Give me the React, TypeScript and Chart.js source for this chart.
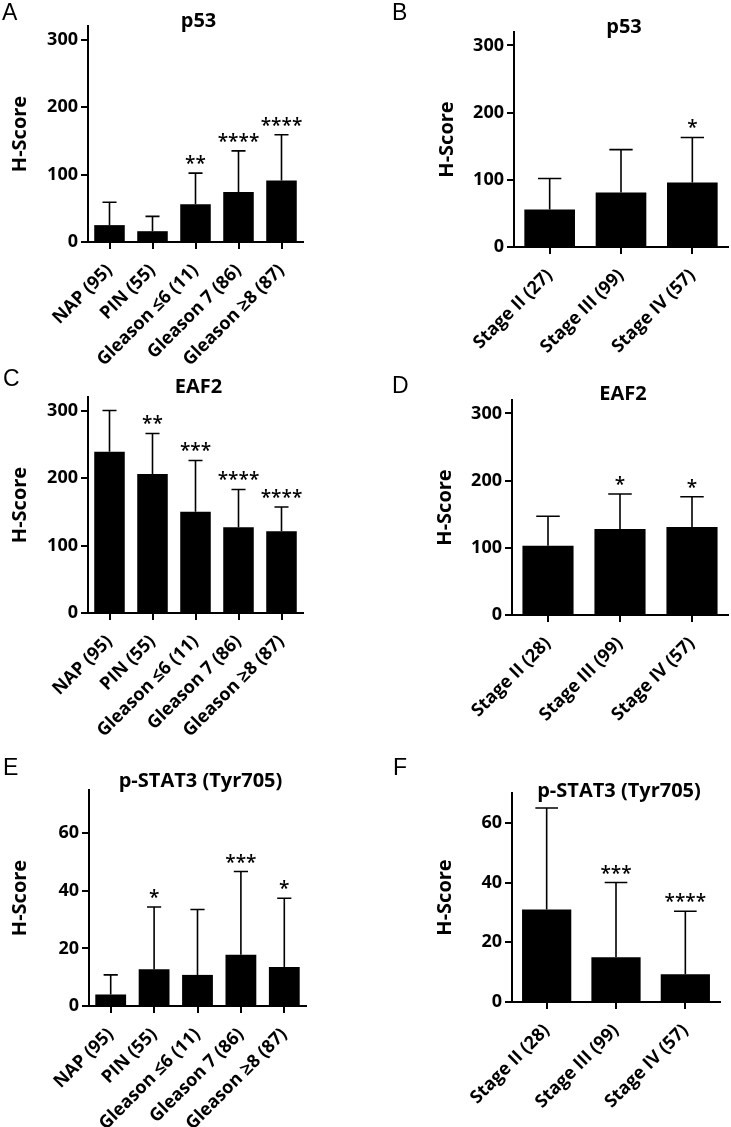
import React, { useEffect, useRef } from 'react';
import { Chart, registerables } from 'chart.js';

Chart.register(...registerables);

// ---------- data ----------
const gleasonCategories = ['NAP (95)', 'PIN (55)', 'Gleason ≤6 (11)', 'Gleason 7 (86)', 'Gleason ≥8 (87)'];
const stageCategoriesP53 = ['Stage II (27)', 'Stage III (99)', 'Stage IV (57)'];
const stageCategories = ['Stage II (28)', 'Stage III (99)', 'Stage IV (57)'];

const p53GleasonMean = [25, 16, 56, 74, 91];
const p53GleasonSD = [34, 22, 46, 61, 68];
const p53GleasonStars = ['', '', '**', '****', '****'];

const p53StageMean = [56, 81, 96];
const p53StageSD = [46, 64, 67];
const p53StageStars = ['', '', '*'];

const eaf2GleasonMean = [239, 206, 150, 127, 121];
const eaf2GleasonSD = [61, 60, 76, 56, 36];
const eaf2GleasonStars = ['', '**', '***', '****', '****'];

const eaf2StageMean = [103, 128, 131];
const eaf2StageSD = [44, 52, 45];
const eaf2StageStars = ['', '*', '*'];

const pstat3GleasonMean = [4, 12.8, 10.8, 17.8, 13.5];
const pstat3GleasonSD = [6.8, 21.6, 22.7, 28.9, 23.9];
const pstat3GleasonStars = ['', '*', '', '***', '*'];

const pstat3StageMean = [31, 15, 9.3];
const pstat3StageSD = [34, 25, 21.1];
const pstat3StageStars = ['', '***', '****'];

const hScoreMax = 320;
const hScoreStep = 100;
const pstat3GleasonMax = 75;
const pstat3StageMax = 70;
const pstat3Step = 20;

const yAxisTitle = 'H-Score';

// ---------- layout ----------
type Box = { x: number; y: number; w: number; h: number };
type Area = { left: number; top: number; right: number; bottom: number };
type PanelCfg = {
  letter: string;
  title: string;
  labels: string[];
  mean: number[];
  sd: number[];
  stars: string[];
  yMax: number;
  yStep: number;
  box: Box;
  area: Area;
  yTitleX: number;
  letterX: number;
  letterY: number;
  titleY: number;
};

const panels: PanelCfg[] = [
  {
    letter: 'A', title: 'p53', labels: gleasonCategories, mean: p53GleasonMean, sd: p53GleasonSD,
    stars: p53GleasonStars, yMax: hScoreMax, yStep: hScoreStep,
    box: { x: 0, y: 0, w: 365, h: 372 }, area: { left: 88, top: 26, right: 303, bottom: 242 },
    yTitleX: 20, letterX: 2, letterY: 20, titleY: 27,
  },
  {
    letter: 'B', title: 'p53', labels: stageCategoriesP53, mean: p53StageMean, sd: p53StageSD,
    stars: p53StageStars, yMax: hScoreMax, yStep: hScoreStep,
    box: { x: 365, y: 0, w: 366, h: 372 }, area: { left: 514, top: 32, right: 728, bottom: 247 },
    yTitleX: 447, letterX: 392, letterY: 20, titleY: 33,
  },
  {
    letter: 'C', title: 'EAF2', labels: gleasonCategories, mean: eaf2GleasonMean, sd: eaf2GleasonSD,
    stars: eaf2GleasonStars, yMax: hScoreMax, yStep: hScoreStep,
    box: { x: 0, y: 360, w: 365, h: 392 }, area: { left: 88, top: 397, right: 303, bottom: 613 },
    yTitleX: 20, letterX: 3, letterY: 386, titleY: 393,
  },
  {
    letter: 'D', title: 'EAF2', labels: stageCategories, mean: eaf2StageMean, sd: eaf2StageSD,
    stars: eaf2StageStars, yMax: hScoreMax, yStep: hScoreStep,
    box: { x: 365, y: 360, w: 366, h: 392 }, area: { left: 512, top: 400, right: 728, bottom: 615 },
    yTitleX: 445, letterX: 392, letterY: 393, titleY: 400,
  },
  {
    letter: 'E', title: 'p-STAT3 (Tyr705)', labels: gleasonCategories, mean: pstat3GleasonMean, sd: pstat3GleasonSD,
    stars: pstat3GleasonStars, yMax: pstat3GleasonMax, yStep: pstat3Step,
    box: { x: 0, y: 752, w: 365, h: 375 }, area: { left: 89, top: 790, right: 306, bottom: 1006 },
    yTitleX: 20, letterX: 3, letterY: 775, titleY: 787,
  },
  {
    letter: 'F', title: 'p-STAT3 (Tyr705)', labels: stageCategories, mean: pstat3StageMean, sd: pstat3StageSD,
    stars: pstat3StageStars, yMax: pstat3StageMax, yStep: pstat3Step,
    box: { x: 365, y: 752, w: 366, h: 375 }, area: { left: 512, top: 793, right: 720, bottom: 1002 },
    yTitleX: 445, letterX: 393, letterY: 775, titleY: 797,
  },
];

const FONT = '"Open Sans"';

const decorPlugin = {
  id: 'panelDecor',
  afterDatasetsDraw(chart: any, _args: any, opts: any) {
    const cfg: PanelCfg = opts.cfg;
    if (!cfg) return;
    const { ctx, chartArea } = chart;
    const meta = chart.getDatasetMeta(0);
    const yScale = chart.scales.y;
    ctx.save();
    ctx.strokeStyle = '#000';
    ctx.fillStyle = '#000';
    ctx.lineWidth = 1.6;
    meta.data.forEach((bar: any, i: number) => {
      const v = cfg.mean[i];
      const top = yScale.getPixelForValue(v + cfg.sd[i]);
      const yb = yScale.getPixelForValue(v);
      const half = bar.width * 0.23;
      ctx.beginPath();
      ctx.moveTo(bar.x, yb);
      ctx.lineTo(bar.x, top);
      ctx.moveTo(bar.x - half, top);
      ctx.lineTo(bar.x + half, top);
      ctx.stroke();
      const s = cfg.stars[i];
      if (s) {
        ctx.font = `600 19px ${FONT}`;
        ctx.textAlign = 'center';
        ctx.textBaseline = 'alphabetic';
        const m = ctx.measureText(s);
        ctx.fillText(s, bar.x, top - 8 - m.actualBoundingBoxDescent);
      }
    });
    // chart title
    ctx.font = `bold 20px ${FONT}`;
    ctx.textAlign = 'center';
    ctx.textBaseline = 'alphabetic';
    ctx.fillText(cfg.title, (chartArea.left + chartArea.right) / 2 + 3, cfg.titleY - cfg.box.y);
    // panel letter
    ctx.font = `23px "Liberation Sans"`;
    ctx.textAlign = 'left';
    ctx.fillText(cfg.letter, cfg.letterX - cfg.box.x, cfg.letterY - cfg.box.y);
    ctx.restore();
  },
};

function Panel({ cfg }: { cfg: PanelCfg }) {
  const ref = useRef<HTMLCanvasElement>(null);
  useEffect(() => {
    const canvas = ref.current;
    if (!canvas) return;
    const { box, area } = cfg;
    const yWidth = area.left - box.x;
    const xHeight = box.y + box.h - area.bottom;
    const titleSize = 20;
    const titleLH = titleSize * 1.2;
    const chart = new Chart(canvas, {
      type: 'bar',
      data: {
        labels: cfg.labels,
        datasets: [
          {
            data: cfg.mean,
            backgroundColor: '#000',
            borderWidth: 0,
            barPercentage: 0.71,
            categoryPercentage: 1,
          },
        ],
      },
      plugins: [decorPlugin],
      options: {
        responsive: false,
        animation: false,
        devicePixelRatio: 1,
        layout: {
          padding: { left: 0, top: area.top - box.y, right: box.x + box.w - area.right, bottom: 0 },
        },
        plugins: {
          legend: { display: false },
          tooltip: { enabled: false },
          title: { display: false },
          panelDecor: { cfg },
        } as any,
        scales: {
          x: {
            type: 'category',
            offset: true,
            grid: {
              display: true,
              drawOnChartArea: false,
              drawTicks: true,
              tickLength: 7,
              offset: false,
              color: '#000',
              lineWidth: 2,
            },
            border: { display: true, color: '#000', width: 2 },
            ticks: {
              color: '#000',
              font: { family: FONT, weight: 'bold', size: 18 },
              maxRotation: 45,
              minRotation: 45,
              autoSkip: false,
              padding: 11,
            },
            afterFit: (s: any) => {
              s.height = xHeight;
            },
          },
          y: {
            type: 'linear',
            min: 0,
            max: cfg.yMax,
            grid: {
              display: true,
              drawOnChartArea: false,
              drawTicks: true,
              tickLength: 7,
              color: '#000',
              lineWidth: 2,
            },
            border: { display: true, color: '#000', width: 2 },
            ticks: {
              color: '#000',
              stepSize: cfg.yStep,
              includeBounds: false,
              font: { family: FONT, weight: 'bold', size: 18 },
              padding: 3,
            },
            title: {
              display: true,
              text: yAxisTitle,
              color: '#000',
              font: { family: FONT, weight: 'bold', size: titleSize, lineHeight: 1.2 },
              padding: { top: cfg.yTitleX - box.x - titleLH / 2, bottom: 0 },
            },
            afterFit: (s: any) => {
              s.width = yWidth;
            },
          },
        },
      } as any,
    });
    return () => chart.destroy();
  }, [cfg]);
  return (
    <canvas
      ref={ref}
      width={cfg.box.w}
      height={cfg.box.h}
      style={{
        position: 'absolute',
        left: cfg.box.x,
        top: cfg.box.y,
        width: cfg.box.w,
        height: cfg.box.h,
        display: 'block',
      }}
    />
  );
}

export default function App() {
  return (
    <div style={{ position: 'absolute', left: 0, top: 0, width: 731, height: 1127, background: '#fff', overflow: 'hidden' }}>
      {panels.map((p) => (
        <Panel key={p.letter} cfg={p} />
      ))}
    </div>
  );
}
